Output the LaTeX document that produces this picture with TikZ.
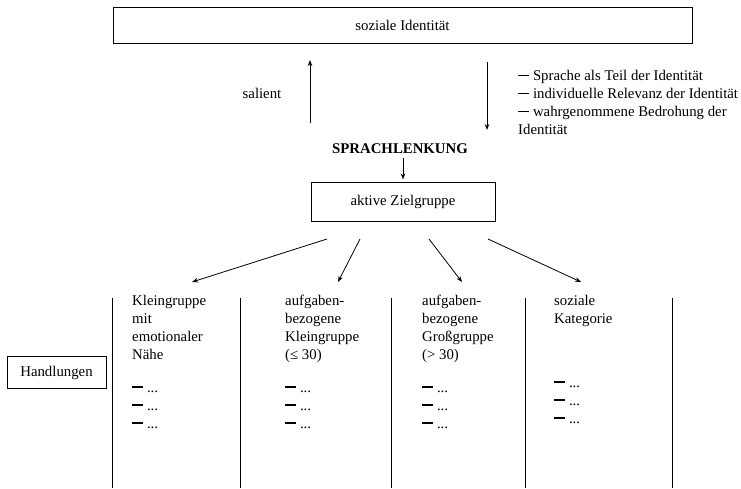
\documentclass[tikz,border=0pt]{standalone}
\usepackage{fontspec}
\setmainfont{Liberation Serif}
\usetikzlibrary{arrows.meta}
\newcommand\strich{\rule[0.3em]{0.75em}{0.1em}}
\begin{document}
\begin{tikzpicture}[x=1pt,y=-1pt,
  font=\fontsize{14.8}{18}\selectfont,
  every node/.style={inner sep=0pt},
  box/.style={draw, line width=1pt},
  arr/.style={-{Stealth[length=6pt,width=4.5pt]}, line width=0.8pt},
  sepline/.style={line width=1pt},
  txt/.style={align=left, anchor=north west}]
\useasboundingbox (0,0) rectangle (741,488);

% top: social identity
\node[box, minimum width=579pt, minimum height=36pt] (ident) at (402.5,25) {soziale Identität};

% salience and influencing factors
\node (sal) at (262,93) {salient};
\coordinate (upA) at (310,123);
\coordinate (upB) at (310,60);
\draw[arr] (upA) -- (upB);
\coordinate (dnA) at (487,62);
\coordinate (dnB) at (487,130);
\draw[arr] (dnA) -- (dnB);
\node[txt] (crit) at (518,70)
  {\strich\ Sprache als Teil der Identität\\
   \strich\ individuelle Relevanz der Identität\\
   \strich\ wahrgenommene Bedrohung der\\
   Identität};

% language steering and target group
\node[font={\fontsize{14.8}{18}\selectfont\bfseries}] (lenk) at (400,149) {SPRACHLENKUNG};
\node[box, minimum width=184pt, minimum height=39pt] (ziel) at (403,201.5) {aktive Zielgruppe};
\draw[arr, shorten <=4pt, shorten >=2pt] (lenk.south -| ziel.north) -- (ziel.north);

% fan-out to the four group types
\coordinate (s1) at (327,239); \coordinate (e1) at (192,282);
\coordinate (s2) at (360,239); \coordinate (e2) at (338,282);
\coordinate (s3) at (429,239); \coordinate (e3) at (462,282);
\coordinate (s4) at (488,239); \coordinate (e4) at (581,282);
\foreach \i in {1,2,3,4} \draw[arr] (s\i) -- (e\i);

% column separators
\foreach \xx in {112,240,391,525,672}
  \draw[sepline] (\xx,298) -- (\xx,488);

% row label
\node[box, minimum width=99pt, minimum height=32pt] (hand) at (56.5,372.5) {Handlungen};

% group types
\node[txt] (g1) at (132,295) {Kleingruppe\\mit\\emotionaler\\Nähe};
\node[txt] (g2) at (285,295) {aufgaben-\\bezogene\\Kleingruppe\\(≤ 30)};
\node[txt] (g3) at (422,295) {aufgaben-\\bezogene\\Großgruppe\\(> 30)};
\node[txt] (g4) at (554,295) {soziale\\Kategorie};

% actions per group
\node[txt] (a1) at (132,386) {\strich\ ...\\\strich\ ...\\\strich\ ...};
\node[txt] (a2) at (285,386) {\strich\ ...\\\strich\ ...\\\strich\ ...};
\node[txt] (a3) at (422,386) {\strich\ ...\\\strich\ ...\\\strich\ ...};
\node[txt] (a4) at (554,381) {\strich\ ...\\\strich\ ...\\\strich\ ...};
\end{tikzpicture}
\end{document}
